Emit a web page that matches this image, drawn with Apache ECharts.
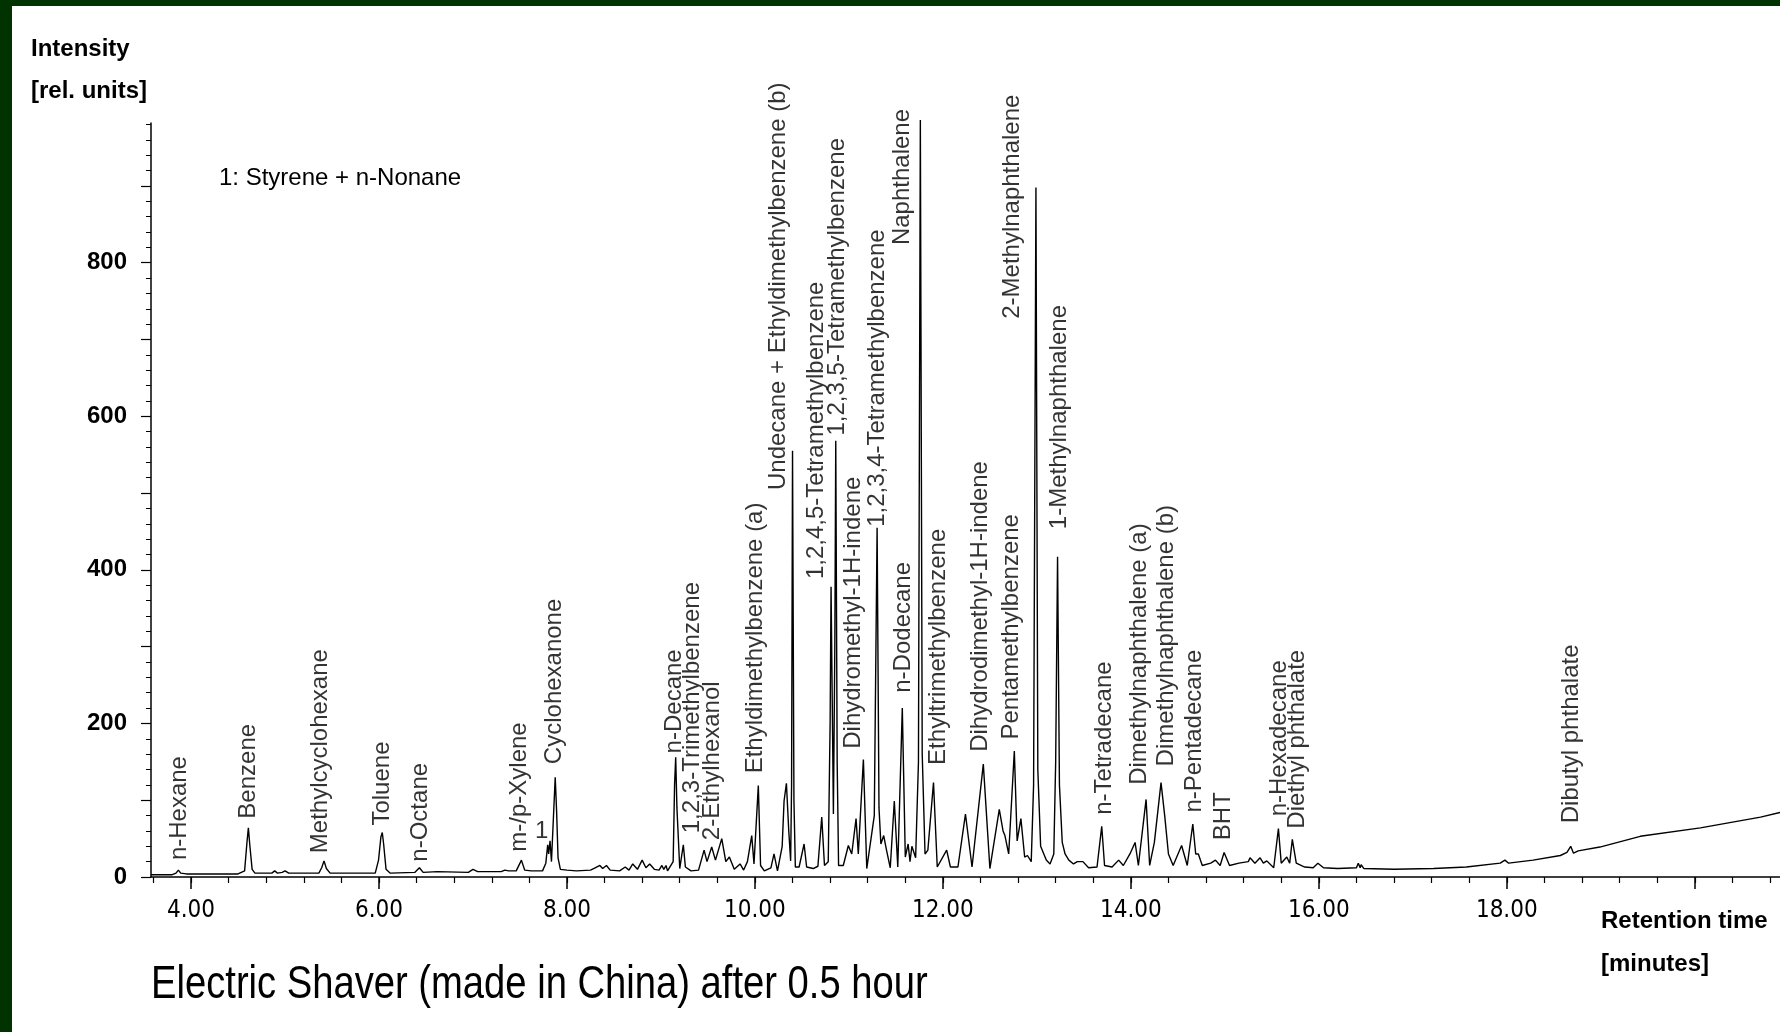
<!DOCTYPE html>
<html>
<head>
<meta charset="utf-8">
<title>Electric Shaver (made in China) after 0.5 hour</title>
<script src="https://cdn.jsdelivr.net/npm/echarts@6/dist/echarts.min.js"></script>
<style>
    html, body { margin: 0; padding: 0; background: #fff; }
    #chart { width: 1780px; height: 1032px; }
</style>
</head>
<body>
<div id="chart"></div>
<script>
/* trace: retention time [min] / intensity [rel. units] */
var traceTime = [
    3.574, 3.80, 3.84, 3.865, 3.89, 3.95, 4.50, 4.57, 4.595, 4.61, 4.625, 4.65, 4.68, 4.86, 4.89, 4.92, 4.97, 5.00, 5.04,
    5.36, 5.39, 5.415, 5.44, 5.48, 5.96, 5.995, 6.02, 6.035, 6.05, 6.075, 6.12, 6.38, 6.43, 6.47, 6.62, 6.95, 7.00, 7.05,
    7.30, 7.34, 7.38, 7.46, 7.50, 7.515, 7.55, 7.62, 7.74, 7.775, 7.795, 7.805, 7.82, 7.835, 7.855, 7.875, 7.89, 7.905, 7.93, 8.00,
    8.10, 8.25, 8.30, 8.35, 8.38, 8.42, 8.46, 8.56, 8.62, 8.66, 8.70, 8.75, 8.80, 8.84, 8.88, 8.93, 8.98, 9.01, 9.03, 9.054, 9.07,
    9.13, 9.145, 9.157, 9.17, 9.20, 9.238, 9.26, 9.32, 9.40, 9.459, 9.49, 9.54, 9.58, 9.647, 9.69, 9.728, 9.78, 9.842, 9.88,
    9.92, 9.966, 9.99, 10.036, 10.06, 10.10, 10.17, 10.203, 10.24, 10.29, 10.31, 10.335, 10.36, 10.38, 10.39, 10.40, 10.415, 10.43,
    10.47, 10.523, 10.55, 10.62, 10.67, 10.711, 10.74, 10.78, 10.80, 10.81, 10.835, 10.85, 10.86, 10.875, 10.89, 10.94, 10.994,
    11.03, 11.076, 11.10, 11.154, 11.19, 11.27, 11.30, 11.32, 11.34, 11.37, 11.40, 11.44, 11.483, 11.52, 11.568, 11.60, 11.63,
    11.65, 11.67, 11.71, 11.74, 11.76, 11.78, 11.81, 11.84, 11.90, 11.94, 12.04, 12.08, 12.16, 12.24, 12.31, 12.43, 12.50,
    12.60, 12.64, 12.66, 12.70, 12.76, 12.79, 12.83, 12.87, 12.90, 12.94, 12.965, 12.99, 13.01, 13.04, 13.10, 13.14, 13.18,
    13.20, 13.22, 13.24, 13.27, 13.30, 13.34, 13.39, 13.43, 13.49, 13.55, 13.64, 13.69, 13.72, 13.80, 13.87, 13.92, 13.99,
    14.045, 14.08, 14.162, 14.20, 14.25, 14.321, 14.36, 14.40, 14.45, 14.54, 14.60, 14.659, 14.69, 14.718, 14.76, 14.85, 14.90,
    14.95, 14.992, 15.05, 15.15, 15.25, 15.268, 15.32, 15.375, 15.41, 15.446, 15.52, 15.57, 15.60, 15.659, 15.69, 15.718, 15.76,
    15.85, 15.94, 15.99, 16.05, 16.20, 16.40, 16.42, 16.44, 16.45, 16.48, 16.80, 17.22, 17.57, 17.93, 17.98, 18.02, 18.28,
    18.57, 18.64, 18.68, 18.71, 18.76, 18.99, 19.42, 20.06, 20.70, 20.907
];
var traceIntensity = [
    3, 3, 5, 9, 5, 4, 4, 8, 45, 64, 42, 10, 5, 5, 8, 5, 6, 8, 5,
    5, 12, 21, 11, 5, 5, 22, 52, 58, 42, 10, 5, 6, 12, 6, 7, 6, 10, 7,
    7, 9, 8, 8, 18, 22, 9, 8, 8, 18, 42, 30, 47, 20, 75, 130, 85, 25, 10, 9,
    8, 9, 12, 15, 11, 15, 9, 8, 13, 9, 17, 10, 22, 12, 17, 10, 9, 15, 10, 15, 8,
    20, 120, 156, 90, 11, 42, 13, 8, 9, 35, 20, 39, 22, 50, 20, 26, 10, 17, 9,
    20, 54, 17, 119, 15, 8, 12, 30, 8, 40, 99, 122, 60, 21, 120, 555, 100, 13,
    13, 43, 13, 11, 14, 78, 15, 20, 200, 378, 82, 300, 568, 150, 15, 15, 41,
    30, 76, 30, 153, 11, 80, 455, 90, 43, 54, 35, 12, 99, 13, 220, 26, 43,
    20, 40, 25, 150, 986, 160, 30, 35, 123, 13, 35, 13, 13, 82, 13, 147, 11,
    88, 60, 54, 30, 164, 47, 76, 26, 28, 20, 120, 898, 140, 40, 22, 17, 30,
    150, 417, 120, 45, 30, 22, 17, 20, 20, 12, 13, 66, 15, 13, 22, 15, 30,
    45, 15, 101, 15, 45, 123, 80, 30, 15, 41, 15, 69, 30, 30, 15, 18, 22,
    15, 32, 15, 18, 20, 25, 18, 25, 18, 21, 12, 63, 18, 26, 18, 49, 18,
    13, 12, 18, 12, 11, 12, 18, 12, 16, 11, 10, 11, 13, 18, 22, 18, 22,
    28, 32, 40, 31, 34, 39, 53, 64, 78, 84
];

/* peak names, with the retention time and intensity where each name starts */
var peakNames = [
    'n-Hexane', 'Benzene', 'Methylcyclohexane', 'Toluene', 'n-Octane', 'm-/p-Xylene', 'Cyclohexanone',
    'n-Decane', '1,2,3-Trimethylbenzene', '2-Ethylhexanol', 'Ethyldimethylbenzene (a)',
    'Undecane + Ethyldimethylbenzene (b)', '1,2,4,5-Tetramethylbenzene', '1,2,3,5-Tetramethylbenzene',
    'Dihydromethyl-1H-indene', '1,2,3,4-Tetramethylbenzene', 'n-Dodecane', 'Naphthalene',
    'Ethyltrimethylbenzene', 'Dihydrodimethyl-1H-indene', 'Pentamethylbenzene', '2-Methylnaphthalene',
    '1-Methylnaphthalene', 'n-Tetradecane', 'Dimethylnaphthalene (a)', 'Dimethylnaphthalene (b)',
    'n-Pentadecane', 'BHT', 'n-Hexadecane', 'Diethyl phthalate', 'Dibutyl phthalate'
];
var labelTime = [
    3.876, 4.610, 5.373, 6.036, 6.444, 7.490, 7.863,
    9.143, 9.338, 9.551, 10.001,
    10.249, 10.650, 10.877,
    11.044, 11.303, 11.579, 11.573,
    11.950, 12.395, 12.725, 12.739,
    13.239, 13.715, 14.087, 14.382,
    14.680, 14.984, 15.577, 15.772, 18.688
];
var labelStart = [
    22, 76, 31, 67, 20, 33, 147,
    161, 57, 48, 135,
    504, 388, 575,
    167, 456, 240, 823,
    146, 163, 179, 727,
    453, 81, 120, 144,
    84, 48, 79, 63, 70
];

var xMajorTicks = [4, 6, 8, 10, 12, 14, 16, 18, 20];
var xTickLabels = [4, 6, 8, 10, 12, 14, 16, 18];
var xMinorTicks = [];
for (var t = 3.6; t < 20.9; t += 0.4) { xMinorTicks.push(Math.round(t * 10) / 10); }
var yMajorTicks = [0, 100, 200, 300, 400, 500, 600, 700, 800, 900];
var yTickLabels = [0, 200, 400, 600, 800];
var yMinorTicks = [];
for (var v = 0; v <= 980; v += 20) { yMinorTicks.push(v); }

var ink = '#000';
var plain = '"Liberation Sans", Arial, sans-serif';
var narrow = '"DejaVu Sans Condensed", sans-serif';

var chart = echarts.init(document.getElementById('chart'));

var trace = traceTime.map(function (t, i) { return [t, traceIntensity[i]]; });
var names = peakNames.map(function (n, i) {
    return { name: n, value: [labelTime[i], labelStart[i]] };
});
// the "1" mark next to the Styrene + n-Nonane peak stands upright
names.push({ name: '1', value: [7.732, 59], label: { rotate: 0, align: 'center' } });

var option = {
    backgroundColor: '#fff',
    animation: false,
    grid: { left: 151, right: 0, top: 123, bottom: 155 },
    xAxis: [
        {
            type: 'value', min: 3.574, max: 20.907, position: 'bottom',
            axisLine: { show: true, lineStyle: { color: ink, width: 1.5 } },
            axisTick: { show: true, customValues: xMajorTicks, length: 12, lineStyle: { color: ink, width: 1.5 } },
            axisLabel: {
                customValues: xTickLabels, margin: 22, color: ink,
                fontFamily: narrow, fontSize: 24,
                formatter: function (v) { return v.toFixed(2); }
            },
            splitLine: { show: false }
        },
        {
            type: 'value', min: 3.574, max: 20.907, position: 'bottom',
            axisLine: { show: false },
            axisTick: { show: true, customValues: xMinorTicks, length: 6, lineStyle: { color: ink, width: 1.2 } },
            axisLabel: { show: false },
            splitLine: { show: false }
        }
    ],
    yAxis: [
        {
            type: 'value', min: 0, max: 982, position: 'left',
            axisLine: { show: true, lineStyle: { color: ink, width: 1.5 } },
            axisTick: { show: true, customValues: yMajorTicks, length: 10, lineStyle: { color: ink, width: 1.2 } },
            axisLabel: {
                customValues: yTickLabels, margin: 24, color: ink,
                fontFamily: plain, fontWeight: 'bold', fontSize: 24
            },
            splitLine: { show: false }
        },
        {
            type: 'value', min: 0, max: 982, position: 'left',
            axisLine: { show: false },
            axisTick: { show: true, customValues: yMinorTicks, length: 5, lineStyle: { color: ink, width: 1 } },
            axisLabel: { show: false },
            splitLine: { show: false }
        }
    ],
    series: [
        {
            type: 'line',
            data: trace,
            showSymbol: false,
            clip: false,
            lineStyle: { color: ink, width: 1.4 },
            z: 3
        },
        {
            type: 'scatter',
            data: names,
            symbolSize: 1,
            itemStyle: { color: 'rgba(0,0,0,0)' },
            clip: false,
            label: {
                show: true,
                formatter: '{b}',
                position: 'inside',
                rotate: 90,
                align: 'left',
                verticalAlign: 'middle',
                color: ink,
                fontFamily: plain,
                fontSize: 24
            },
            z: 4
        }
    ],
    graphic: [
        { type: 'rect', shape: { x: 0, y: 0, width: 1780, height: 6 }, style: { fill: '#003300' } },
        { type: 'rect', shape: { x: 0, y: 0, width: 12, height: 1032 }, style: { fill: '#003300' } },
        { type: 'text', x: 31, y: 49, style: { text: 'Intensity', font: 'bold 24px ' + plain, fill: ink, verticalAlign: 'middle' } },
        { type: 'text', x: 31, y: 91, style: { text: '[rel. units]', font: 'bold 24px ' + plain, fill: ink, verticalAlign: 'middle' } },
        { type: 'text', x: 219, y: 178, style: { text: '1: Styrene + n-Nonane', font: '24px ' + plain, fill: ink, verticalAlign: 'middle' } },
        { type: 'text', x: 1601, y: 921, style: { text: 'Retention time', font: 'bold 24px ' + plain, fill: ink, verticalAlign: 'middle' } },
        { type: 'text', x: 1601, y: 964, style: { text: '[minutes]', font: 'bold 24px ' + plain, fill: ink, verticalAlign: 'middle' } },
        // the caption is set in a narrow face in the scan
        { type: 'text', x: 151, y: 985, scaleX: 0.83, style: { text: 'Electric Shaver (made in China) after 0.5 hour', font: '46px ' + plain, fill: ink, verticalAlign: 'middle' } }
    ]
};
chart.setOption(option);
</script>
</body>
</html>
